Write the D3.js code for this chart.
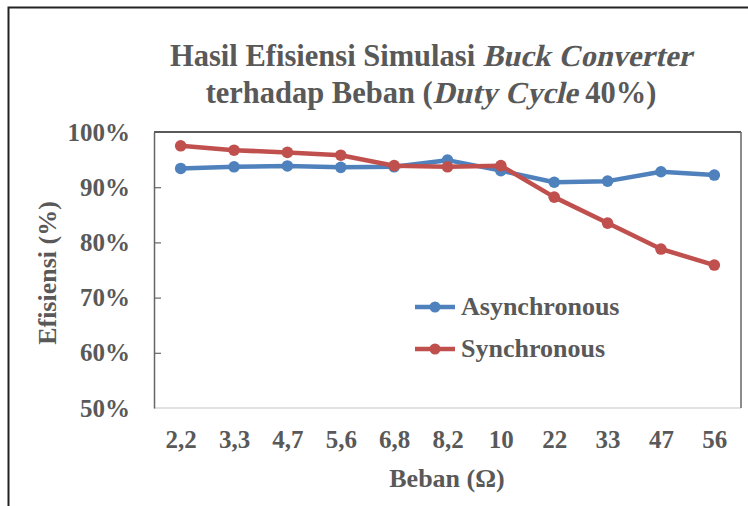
<!DOCTYPE html>
<html><head><meta charset="utf-8">
<script src="https://cdn.jsdelivr.net/npm/d3@7"></script>
<style>
html,body{margin:0;padding:0;background:#fff;}
svg{display:block;}
text{font-family:"Liberation Serif","Times New Roman",serif;font-weight:bold;fill:#595959;}
</style></head>
<body>
<script>
const categories = ["2,2","3,3","4,7","5,6","6,8","8,2","10","22","33","47","56"];
const asynchronous = [93.4, 93.7, 93.85, 93.6, 93.7, 94.9, 93.0, 90.9, 91.1, 92.8, 92.2];
const synchronous = [97.5, 96.7, 96.3, 95.8, 93.9, 93.7, 93.9, 88.2, 83.5, 78.8, 75.9];
const yTicks = [50, 60, 70, 80, 90, 100];
const seriesNames = ["Asynchronous", "Synchronous"];
const colors = ["#4F81BD", "#C0504D"];
const titleLines = [
  [["Hasil Efisiensi Simulasi ", false], ["Buck Converter", true]],
  [["terhadap Beban (", false], ["Duty Cycle", true], [" 40%)", false]]
];

const W = 748, H = 506;
const svg = d3.select("body").append("svg").attr("width", W).attr("height", H);

// outer frame
svg.append("path").attr("d", `M8.5,${H} L8.5,7.5 L${W},7.5`).attr("fill","none").attr("stroke","#222").attr("stroke-width",2);

const L = 154, R = 741, T = 132, B = 408;
const x = d3.scalePoint().domain(categories).range([L, R]).padding(0.5);
const y = d3.scaleLinear().domain([50, 100]).range([B, T]);

// plot frame
svg.append("line").attr("x1",L).attr("x2",R).attr("y1",B).attr("y2",B).attr("stroke","#d9d9d9").attr("stroke-width",1.5);
svg.append("line").attr("x1",L).attr("x2",R).attr("y1",T).attr("y2",T).attr("stroke","#222").attr("stroke-width",1.5);
svg.append("line").attr("x1",R).attr("x2",R).attr("y1",T).attr("y2",B).attr("stroke","#666").attr("stroke-width",1.5);

// y axis
const yAxis = svg.append("g").attr("transform",`translate(${L},0)`)
  .call(d3.axisLeft(y).tickValues(yTicks).tickFormat(d => d + "%").tickSizeInner(-7).tickSizeOuter(0).tickPadding(24));
yAxis.select(".domain").attr("stroke","#666").attr("stroke-width",1.5);
yAxis.selectAll(".tick line").attr("stroke","#666").attr("stroke-width",1.2)
  .filter(d => d === 50 || d === 100).remove();
yAxis.selectAll(".tick text").attr("font-size",25).attr("fill","#595959")
  .attr("font-family","'Liberation Serif',serif").attr("font-weight","bold");

// x axis labels
const xAxis = svg.append("g").attr("transform",`translate(0,${B})`)
  .call(d3.axisBottom(x).tickSize(0).tickPadding(22));
xAxis.select(".domain").remove();
xAxis.selectAll(".tick text").attr("font-size",25).attr("fill","#595959")
  .attr("font-family","'Liberation Serif',serif").attr("font-weight","bold");

// axis titles
svg.append("text").attr("x", 447).attr("y", 487).attr("text-anchor","middle").attr("font-size",26).text("Beban (Ω)");
svg.append("text").attr("transform","translate(56,273) rotate(-90)").attr("text-anchor","middle").attr("font-size",26).text("Efisiensi (%)");

// title (italic parts drawn as skewed upright serif)
const titleY = [66, 103], titleCx = 431, titleSize = 30.5;
titleLines.forEach((segs, li) => {
  const g = svg.append("g");
  const nodes = segs.map(([txt, it]) => g.append("text").attr("font-size", titleSize)
    .attr("xml:space","preserve").style("white-space","pre").text(txt));
  const widths = nodes.map(n => n.node().getComputedTextLength());
  const total = d3.sum(widths);
  let cx = titleCx - total / 2;
  nodes.forEach((n, i) => {
    const tr = segs[i][1] ? `translate(${cx},${titleY[li]}) skewX(-13)` : `translate(${cx},${titleY[li]})`;
    n.attr("transform", tr);
    cx += widths[i];
  });
});

// series
const data = [asynchronous, synchronous];
const line = d3.line().x((d,i) => x(categories[i])).y(d => y(d));
data.forEach((vals, si) => {
  const g = svg.append("g");
  g.append("path").datum(vals).attr("d", line).attr("fill","none")
    .attr("stroke", colors[si]).attr("stroke-width",4.5).attr("stroke-linejoin","round");
  g.selectAll("circle").data(vals).enter().append("circle")
    .attr("cx",(d,i) => x(categories[i])).attr("cy", d => y(d)).attr("r",5.8).attr("fill",colors[si]);
});

// legend
const legY = [307, 349];
seriesNames.forEach((name, i) => {
  const g = svg.append("g");
  g.append("line").attr("x1",415).attr("x2",455).attr("y1",legY[i]).attr("y2",legY[i]).attr("stroke",colors[i]).attr("stroke-width",4.5);
  g.append("circle").attr("cx",435).attr("cy",legY[i]).attr("r",5.5).attr("fill",colors[i]);
  g.append("text").attr("x",461).attr("y",legY[i]+8).attr("font-size",26).text(name);
});
</script>
</body></html>
